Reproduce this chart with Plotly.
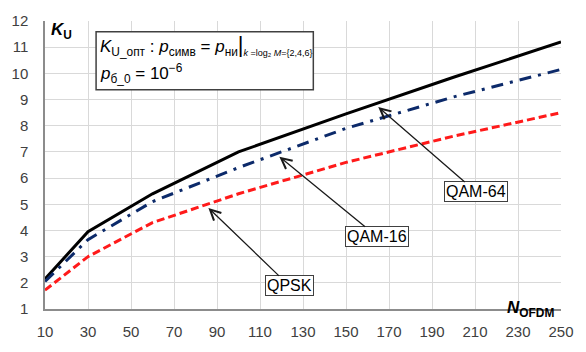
import numpy as np
import plotly.graph_objects as go

# Number of OFDM subcarriers
n_ofdm = [10, 30, 60, 100, 150, 200, 250]

# Optimal K_U for each modulation
k_qam64 = [2.15, 3.95, 5.4, 7.0, 8.45, 9.85, 11.2]
k_qam16 = [2.05, 3.65, 5.1, 6.4, 7.9, 9.1, 10.15]
k_qpsk = [1.72, 3.0, 4.3, 5.4, 6.6, 7.6, 8.5]

x_ticks = list(range(10, 251, 20))
y_ticks = list(range(1, 13))

# Curve labels and where their arrows point (x position on the curve)
curve_labels = ["QAM-64", "QAM-16", "QPSK"]
arrow_x = [165, 119, 86]
label_offset = [(98, 85), (98, 80), (81, 78)]

FONT = "Arial, Liberation Sans, sans-serif"

fig = go.Figure()
fig.add_trace(go.Scatter(x=n_ofdm, y=k_qam64, mode="lines",
                         line=dict(color="#000000", width=3)))
fig.add_trace(go.Scatter(x=n_ofdm, y=k_qam16, mode="lines",
                         line=dict(color="#0c2a6a", width=3, dash="12px,7px,3px,7px")))
fig.add_trace(go.Scatter(x=n_ofdm, y=k_qpsk, mode="lines",
                         line=dict(color="#ff1a1a", width=3, dash="8px,4px")))

series = [k_qam64, k_qam16, k_qpsk]
for name, xa, (ax, ay), ys in zip(curve_labels, arrow_x, label_offset, series):
    ya = float(np.interp(xa, n_ofdm, ys))
    fig.add_annotation(x=xa, y=ya, yshift=-4, text=name, showarrow=True,
                       arrowhead=5, arrowsize=1.6, arrowwidth=1.3, arrowcolor="#1a1a1a",
                       ax=ax, ay=ay, font=dict(family=FONT, size=16, color="#000000"),
                       bgcolor="#ffffff", bordercolor="#404040", borderwidth=1, borderpad=1)

# Condition box
fig.add_shape(type="rect", xref="paper", yref="paper",
              x0=0.099, x1=0.52, y0=0.761, y1=0.963,
              line=dict(color="#404040", width=1.5), fillcolor="#ffffff")
line1 = ("<i>K</i><sub>U_опт</sub> : <i>p</i><sub>симв</sub> = <i>p</i><sub>ни</sub>"
         "<span style='font-size:22px'>|</span>"
         "<sub><span style='font-size:9px'><i>k</i> =log₂ <i>M</i>={2,4,6}</span></sub>")
line2 = "<i>p</i><sub>б_0</sub> = 10<sup>−6</sup>"
fig.add_annotation(xref="paper", yref="paper", x=0.102, y=0.915, xanchor="left",
                   yanchor="middle", text=line1, showarrow=False,
                   font=dict(family=FONT, size=17, color="#000000"))
fig.add_annotation(xref="paper", yref="paper", x=0.102, y=0.818, xanchor="left",
                   yanchor="middle", text=line2, showarrow=False,
                   font=dict(family=FONT, size=17, color="#000000"))

# Axis titles placed inside the plot corners
fig.add_annotation(xref="paper", yref="paper", x=0.008, y=0.968, xanchor="left",
                   yanchor="top", yshift=12, text="<b><i>K</i><sub>U</sub></b>",
                   showarrow=False, font=dict(family=FONT, size=17, color="#000000"))
fig.add_annotation(xref="paper", yref="paper", x=0.99, y=0.012, xanchor="right",
                   yanchor="bottom", yshift=-16, text="<b><i>N</i><sub>OFDM</sub></b>",
                   showarrow=False, font=dict(family=FONT, size=17, color="#000000"))

fig.update_layout(
    width=586, height=352,
    margin=dict(l=44, r=19, t=18, b=26),
    paper_bgcolor="#ffffff", plot_bgcolor="#ffffff",
    showlegend=False,
    font=dict(family=FONT, size=15, color="#404040"),
)
fig.update_xaxes(range=[10, 250], tickmode="array", tickvals=x_ticks,
                 ticktext=[str(v) for v in x_ticks],
                 showgrid=True, gridcolor="#d9d9d9", gridwidth=1,
                 showline=True, linecolor="#8c8c8c", linewidth=1.5,
                 zeroline=False, ticks="", ticklabelstandoff=8)
fig.update_yaxes(range=[1, 12], tickmode="array", tickvals=y_ticks,
                 ticktext=[str(v) for v in y_ticks],
                 showgrid=True, gridcolor="#d9d9d9", gridwidth=1,
                 showline=True, linecolor="#8c8c8c", linewidth=1.5,
                 zeroline=False, ticks="", ticklabelstandoff=12)

fig.write_html("out.html")
